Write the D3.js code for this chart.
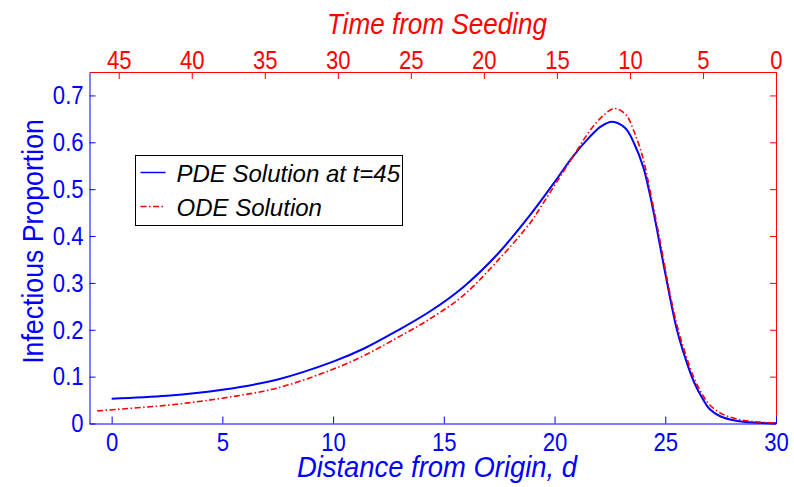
<!DOCTYPE html>
<html>
<head>
<meta charset="utf-8">
<script src="https://cdn.jsdelivr.net/npm/d3@7"></script>
<style>
  body { margin: 0; background: #fff; }
  svg text { font-family: "Liberation Sans Narrow", "Arial Narrow", "Liberation Sans", sans-serif; }
</style>
</head>
<body>
<svg id="chart" width="794" height="487"></svg>
<script>
// distance from origin (d) and infectious proportion, PDE solution at t=45
const pdeD = [0, 2.5, 5, 7.5, 10, 11.4, 12.9, 14.4, 15.9, 17.4, 18.9, 20.0, 20.8, 21.6, 22.1, 22.6, 23.2, 23.6, 24.0, 24.3, 24.6, 24.9, 25.2, 25.5, 25.8, 26.3, 26.7, 27.0, 27.5, 28.2, 29, 30];
const pdeV = [0.053, 0.059, 0.072, 0.094, 0.132, 0.16, 0.198, 0.24, 0.292, 0.36, 0.445, 0.515, 0.568, 0.612, 0.634, 0.644, 0.630, 0.597, 0.548, 0.49, 0.42, 0.345, 0.272, 0.205, 0.155, 0.088, 0.052, 0.031, 0.015, 0.006, 0.002, 0.0005];

// ODE solution
const odeD = [-0.65, 2.5, 5, 7.5, 9.9, 11.4, 12.9, 14.4, 15.9, 17.4, 18.9, 19.35, 20.0, 20.8, 21.6, 22.2, 22.7, 23.2, 23.6, 24.0, 24.3, 24.6, 24.9, 25.2, 25.5, 25.8, 26.3, 26.7, 27.0, 27.5, 28.2, 29, 30];
const odeV = [0.027, 0.039, 0.054, 0.076, 0.114, 0.145, 0.183, 0.224, 0.274, 0.346, 0.428, 0.46, 0.508, 0.567, 0.625, 0.657, 0.672, 0.660, 0.622, 0.565, 0.50, 0.43, 0.355, 0.28, 0.215, 0.165, 0.097, 0.06, 0.04, 0.022, 0.01, 0.004, 0.001];

const dTicks = [0, 5, 10, 15, 20, 25, 30];
const timeTicks = [45, 40, 35, 30, 25, 20, 15, 10, 5, 0];
const yTicks = [0, 0.1, 0.2, 0.3, 0.4, 0.5, 0.6, 0.7];

const legendLabels = ['PDE Solution at t=45', 'ODE Solution'];

const BLUE = '#0000ff', RED = '#ff0000';
const plotL = 89.5, plotR = 776, plotT = 72, plotB = 423.5;

const svg = d3.select('#chart');

const x = d3.scaleLinear().domain([-1, 30]).range([plotL, plotR]);
const xTime = d3.scaleLinear().domain([47, 0]).range([plotL, plotR]);
const y = d3.scaleLinear().domain([0, 0.75]).range([plotB, plotT]);

// narrow the tick labels (no narrow font installed)
function narrow(g, color) {
  g.selectAll('path,line').attr('stroke', color);
  g.selectAll('text')
    .attr('fill', color)
    .attr('transform', 'scale(0.85,1)')
    .style('font-size', '26px');
}

// right axis (red, no labels)
svg.append('g')
  .attr('transform', 'translate(' + plotR + ',0)')
  .call(d3.axisRight(y).tickValues(yTicks).tickSizeInner(-6).tickSizeOuter(0).tickFormat(''))
  .call(g => g.selectAll('path,line').attr('stroke', RED));

// top axis: time from seeding
svg.append('g')
  .attr('transform', 'translate(0,' + plotT + ')')
  .call(d3.axisTop(xTime).tickValues(timeTicks).tickSizeInner(-7).tickSizeOuter(0).tickPadding(3))
  .call(g => narrow(g, RED));

// bottom axis: distance
svg.append('g')
  .attr('transform', 'translate(0,' + plotB + ')')
  .call(d3.axisBottom(x).tickValues(dTicks).tickSizeInner(-7).tickSizeOuter(0).tickPadding(9))
  .call(g => narrow(g, BLUE));

// left axis
svg.append('g')
  .attr('transform', 'translate(' + plotL + ',0)')
  .call(d3.axisLeft(y).tickValues(yTicks).tickSizeInner(-6).tickSizeOuter(0).tickPadding(7).tickFormat(d => d === 0 ? '0' : d3.format('.1f')(d)))
  .call(g => narrow(g, BLUE));

// titles
svg.append('text')
  .attr('transform', 'translate(437,34) scale(0.9,1)')
  .attr('text-anchor', 'middle')
  .attr('fill', RED)
  .style('font-size', '29px').style('font-style', 'italic')
  .text('Time from Seeding');

svg.append('text')
  .attr('transform', 'translate(437,477) scale(0.945,1)')
  .attr('text-anchor', 'middle')
  .attr('fill', BLUE)
  .style('font-size', '29px').style('font-style', 'italic')
  .text('Distance from Origin, d');

svg.append('text')
  .attr('transform', 'translate(43,241.5) rotate(-90) scale(0.92,1)')
  .attr('text-anchor', 'middle')
  .attr('fill', BLUE)
  .style('font-size', '29px')
  .text('Infectious Proportion');

// curves
const line = d3.line()
  .x(d => x(d[0]))
  .y(d => y(d[1]))
  .curve(d3.curveCatmullRom.alpha(0.5));

const pde = d3.zip(pdeD, pdeV);
const ode = d3.zip(odeD, odeV);

svg.append('path')
  .datum(pde)
  .attr('d', line)
  .attr('fill', 'none')
  .attr('stroke', BLUE)
  .attr('stroke-width', 2);

svg.append('path')
  .datum(ode)
  .attr('d', line)
  .attr('fill', 'none')
  .attr('stroke', RED)
  .attr('stroke-width', 1.6)
  .attr('stroke-dasharray', '6,2.5,1.5,2.5');

// legend
const legend = svg.append('g').attr('transform', 'translate(135.5,155.5)');
legend.append('rect')
  .attr('width', 267).attr('height', 70)
  .attr('fill', '#fff').attr('stroke', '#000').attr('stroke-width', 1);

const styles = [
  { stroke: BLUE, dash: null, w: 1.5 },
  { stroke: RED, dash: '6,2.5,1.5,2.5', w: 1.5 }
];
legendLabels.forEach((lab, i) => {
  const ly = 17 + i * 34;
  legend.append('line')
    .attr('x1', 5).attr('x2', 30)
    .attr('y1', ly).attr('y2', ly)
    .attr('stroke', styles[i].stroke)
    .attr('stroke-width', styles[i].w)
    .attr('stroke-dasharray', styles[i].dash);
  legend.append('text')
    .attr('x', 41).attr('y', ly + 9)
    .attr('fill', '#000')
    .style('font-size', '24px').style('font-style', 'italic')
    .text(lab);
});
</script>
</body>
</html>
